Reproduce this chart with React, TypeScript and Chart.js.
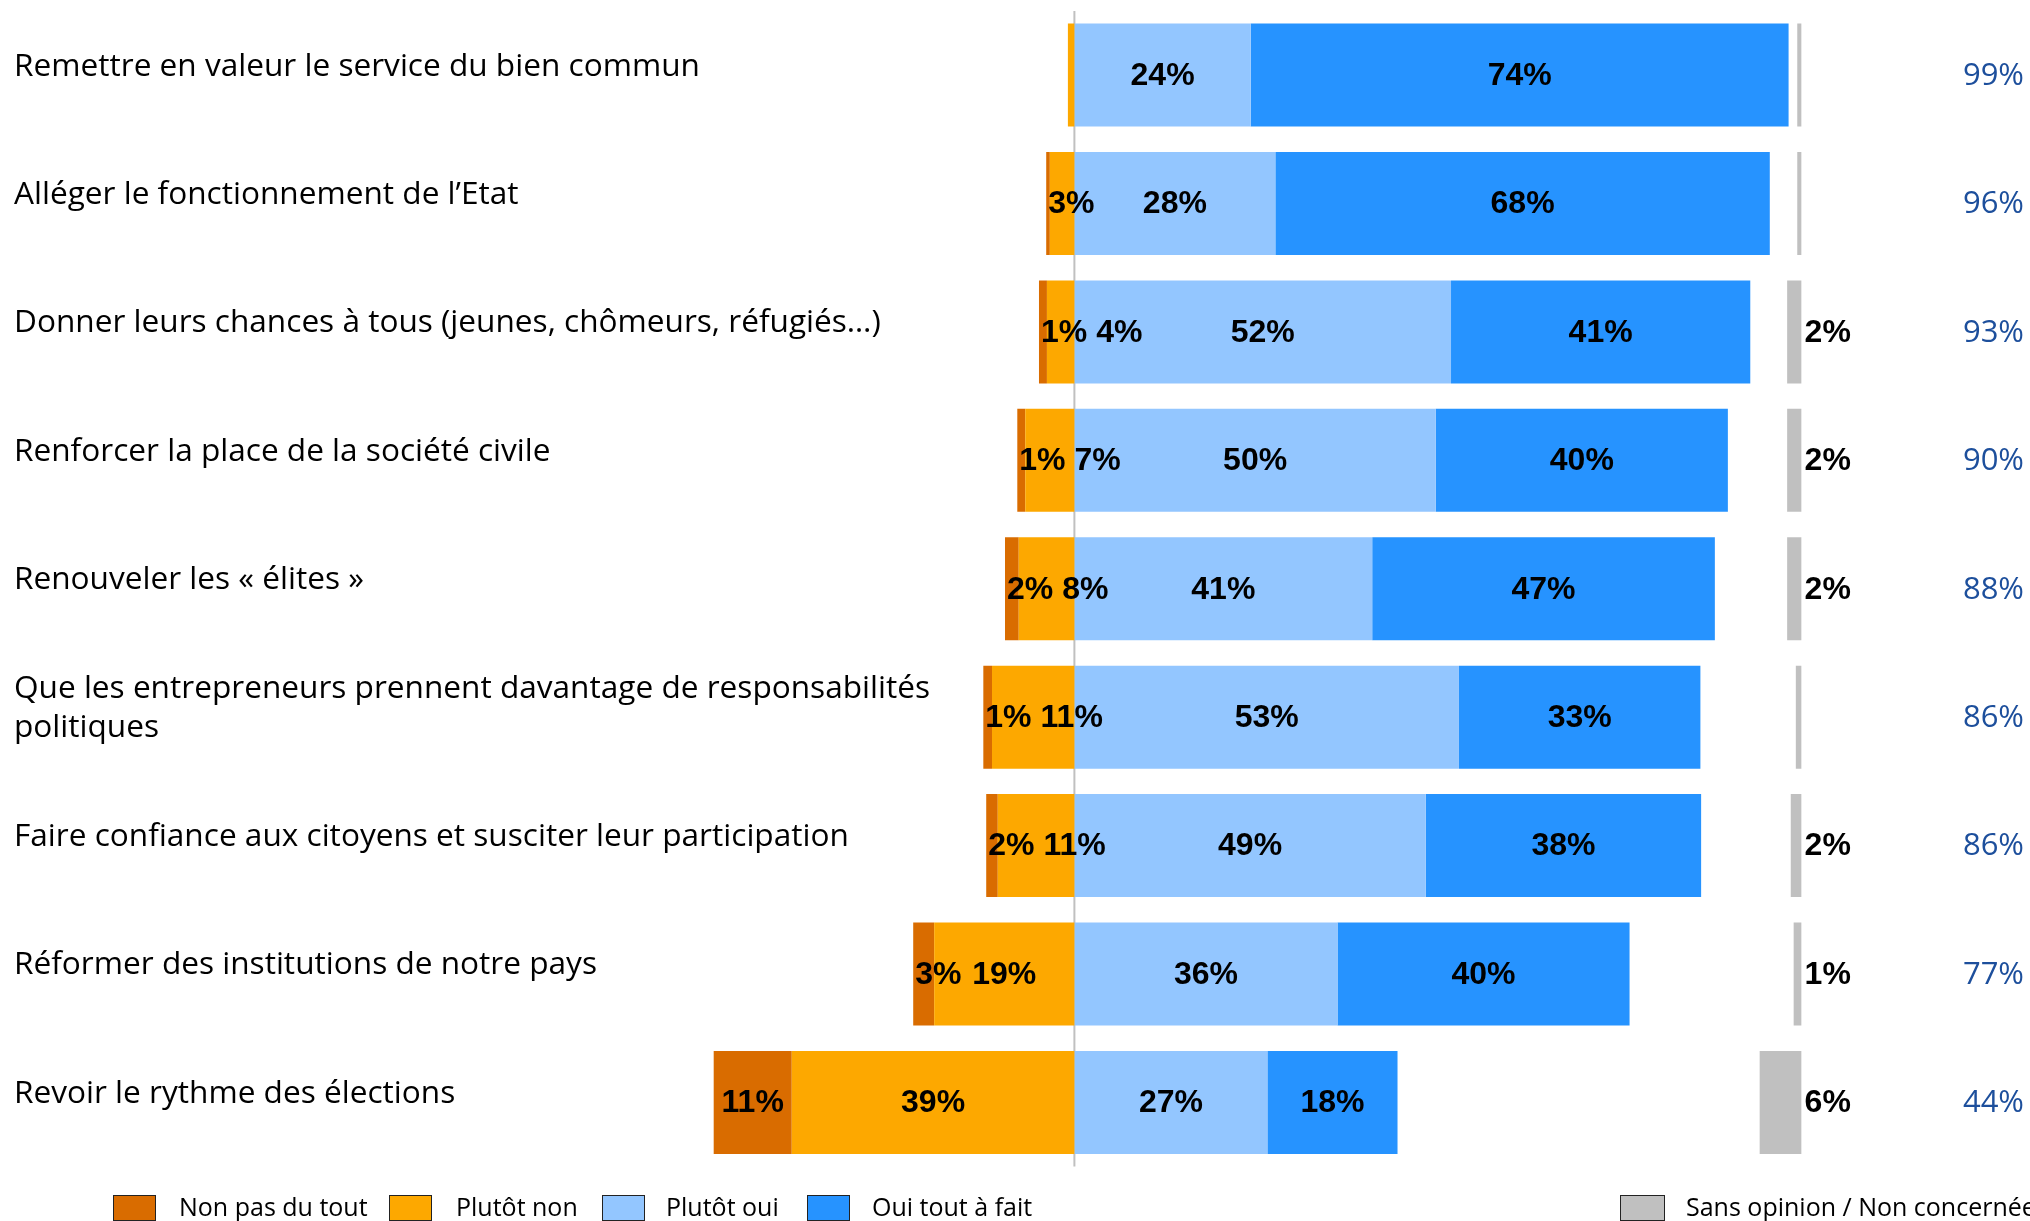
import React, { useEffect, useRef } from "react";
import { Chart, registerables } from "chart.js";

Chart.register(...registerables);

const categories: string[][] = [
  ["Remettre en valeur le service du bien commun"],
  ["Alléger le fonctionnement de l’Etat"],
  ["Donner leurs chances à tous (jeunes, chômeurs, réfugiés…)"],
  ["Renforcer la place de la société civile"],
  ["Renouveler les « élites »"],
  ["Que les entrepreneurs prennent davantage de responsabilités", "politiques"],
  ["Faire confiance aux citoyens et susciter leur participation"],
  ["Réformer des institutions de notre pays"],
  ["Revoir le rythme des élections"],
];

const nonPasDuTout = [0, 0.5, 1.1, 1.1, 1.9, 1.2, 1.6, 2.9, 10.8];
const plutotNon = [0.9, 3.4, 3.8, 6.8, 7.7, 11.4, 10.6, 19.4, 39.1];
const plutotOui = [24.4, 27.8, 52.1, 50.0, 41.2, 53.2, 48.6, 36.4, 26.7];
const ouiToutAFait = [74.4, 68.4, 41.4, 40.4, 47.4, 33.4, 38.1, 40.4, 18.0];
const sansOpinion = [0.6, 0.6, 2.0, 2.0, 2.0, 0.8, 1.5, 1.1, 5.8];
const totalOui = ["99%", "96%", "93%", "90%", "88%", "86%", "86%", "77%", "44%"];

const legendLabels = ["Non pas du tout", "Plutôt non", "Plutôt oui", "Oui tout à fait", "Sans opinion / Non concernée"];

const COL_NON = "#d96c00";
const COL_PNON = "#fda800";
const COL_POUI = "#93c6ff";
const COL_OUI = "#2693ff";
const COL_SANS = "#c0c0c0";
const COL_TOTAL = "#1d4f9c";

const LABEL_FONT = '"Open Sans", "DejaVu Sans", sans-serif';
const VALUE_FONT = 'bold 32px "Liberation Sans", Arial, sans-serif';

const fmt = (v: number) => `${Math.round(v)}%`;

const overlayPlugin = {
  id: "overlay",
  beforeDatasetsDraw(chart: any) {
    const { ctx, chartArea } = chart;
    const x0 = chart.scales.x.getPixelForValue(0);
    ctx.save();
    ctx.strokeStyle = "#c0c0c0";
    ctx.lineWidth = 2;
    ctx.beginPath();
    ctx.moveTo(x0, chartArea.top);
    ctx.lineTo(x0, chartArea.bottom);
    ctx.stroke();
    ctx.restore();
  },
  afterDatasetsDraw(chart: any) {
    const { ctx } = chart;
    const yScale = chart.scales.y;
    ctx.save();

    // category labels
    ctx.fillStyle = "#000";
    ctx.font = `31.6px ${LABEL_FONT}`;
    ctx.textAlign = "left";
    ctx.textBaseline = "middle";
    categories.forEach((lines, j) => {
      const yc = yScale.getPixelForValue(j) - 8.5;
      const lh = 39;
      const start = yc - ((lines.length - 1) * lh) / 2;
      lines.forEach((ln, k) => ctx.fillText(ln, 14, start + k * lh));
    });

    // totals
    ctx.fillStyle = COL_TOTAL;
    ctx.font = `31px ${LABEL_FONT}`;
    ctx.textAlign = "right";
    totalOui.forEach((t, j) => {
      ctx.fillText(t, 2024, yScale.getPixelForValue(j) + 1);
    });

    // value labels
    ctx.font = VALUE_FONT;
    ctx.fillStyle = "#000";
    ctx.textAlign = "left";
    const gap = 9;
    for (let j = 0; j < categories.length; j++) {
      const ePn = chart.getDatasetMeta(0).data[j];
      const eNon = chart.getDatasetMeta(1).data[j];
      const y = ePn.y + 1;
      const barStart = Math.min(eNon.x, eNon.base, ePn.x, ePn.base);
      let prevRight = -Infinity;
      const negItems = [
        { el: eNon, v: nonPasDuTout[j] },
        { el: ePn, v: plutotNon[j] },
      ];
      negItems.forEach(({ el, v }) => {
        if (v < 1) return;
        const txt = fmt(v);
        const w = ctx.measureText(txt).width;
        const c = (el.x + el.base) / 2;
        const lx = Math.max(c - w / 2, prevRight + gap, barStart + 2);
        ctx.fillText(txt, lx, y);
        prevRight = lx + w;
      });
      [
        { el: chart.getDatasetMeta(2).data[j], v: plutotOui[j] },
        { el: chart.getDatasetMeta(3).data[j], v: ouiToutAFait[j] },
      ].forEach(({ el, v }) => {
        if (v < 1) return;
        const txt = fmt(v);
        const w = ctx.measureText(txt).width;
        const c = (el.x + el.base) / 2;
        const lx = Math.max(c - w / 2, prevRight + gap);
        ctx.fillText(txt, lx, y);
        prevRight = lx + w;
      });
      const eS = chart.getDatasetMeta(4).data[j];
      if (sansOpinion[j] >= 1) {
        ctx.fillText(fmt(sansOpinion[j]), Math.max(eS.x, eS.base) + 3, y);
      }
    }

    // legend
    const colors = [COL_NON, COL_PNON, COL_POUI, COL_OUI, COL_SANS];
    const boxX = [113, 389, 602, 807, 1620];
    const boxW = [42, 42, 42, 42, 44];
    const txtX = [179, 456, 666, 872, 1686];
    ctx.font = `25px ${LABEL_FONT}`;
    ctx.textBaseline = "middle";
    legendLabels.forEach((lab, i) => {
      ctx.fillStyle = colors[i];
      ctx.fillRect(boxX[i], 1195, boxW[i], 25);
      ctx.strokeStyle = "#222";
      ctx.lineWidth = 1;
      ctx.strokeRect(boxX[i] + 0.5, 1195.5, boxW[i], 25);
      ctx.fillStyle = "#000";
      ctx.fillText(lab, txtX[i], 1209);
    });

    ctx.restore();
  },
};

export default function App() {
  const ref = useRef<HTMLCanvasElement | null>(null);

  useEffect(() => {
    document.body.style.margin = "0";
    const canvas = ref.current;
    if (!canvas) return;
    const chart = new Chart(canvas, {
      type: "bar",
      data: {
        labels: categories.map((c) => c.join(" ")),
        datasets: [
          { label: legendLabels[1], data: plutotNon.map((v) => -v), backgroundColor: COL_PNON, xAxisID: "x" },
          { label: legendLabels[0], data: nonPasDuTout.map((v) => -v), backgroundColor: COL_NON, xAxisID: "x" },
          { label: legendLabels[2], data: plutotOui, backgroundColor: COL_POUI, xAxisID: "x" },
          { label: legendLabels[3], data: ouiToutAFait, backgroundColor: COL_OUI, xAxisID: "x" },
          { label: legendLabels[4], data: sansOpinion, backgroundColor: COL_SANS, xAxisID: "x2" },
        ],
      },
      options: {
        indexAxis: "y",
        responsive: false,
        animation: false,
        layout: { padding: { left: 568.4, right: 228.4, top: 10.9, bottom: 54.4 } },
        datasets: { bar: { grouped: false, barPercentage: 0.802, categoryPercentage: 1, borderWidth: 0 } },
        plugins: { legend: { display: false }, tooltip: { enabled: false }, title: { display: false } },
        scales: {
          x: { type: "linear", stacked: true, min: -70, max: 100.6, display: false },
          x2: { type: "linear", reverse: true, min: 0, max: 170.6, display: false },
          y: { type: "category", stacked: true, display: false },
        },
      } as any,
      plugins: [overlayPlugin],
    });
    return () => chart.destroy();
  }, []);

  return (
    <div style={{ width: 2030, height: 1221, position: "relative", overflow: "hidden" }}>
      <canvas ref={ref} width={2030} height={1221} style={{ display: "block", width: 2030, height: 1221 }} />
    </div>
  );
}
